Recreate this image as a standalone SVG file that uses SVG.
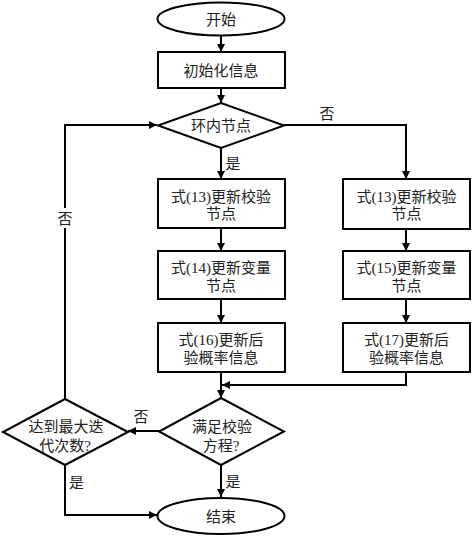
<svg xmlns="http://www.w3.org/2000/svg" width="472" height="536" viewBox="0 0 472 536">
<style>
.s{fill:#fff;stroke:#000;stroke-width:2}
.c{fill:none;stroke:#000;stroke-width:2}
text{font-family:"Liberation Serif","Noto Sans CJK SC",serif;font-size:15px;fill:#222;text-anchor:middle}
</style>
<defs>
<marker id="a" markerUnits="userSpaceOnUse" markerWidth="8" markerHeight="8" refX="8" refY="4" orient="auto">
<path d="M0,0 L8,4 L0,8 z" fill="#000"/>
</marker>
</defs>
<rect width="472" height="536" fill="#fff"/>
<g id="connectors">
<path class="c" d="M221,35 V52" marker-end="url(#a)"/>
<path class="c" d="M221,88 V103" marker-end="url(#a)"/>
<path class="c" d="M221,148 V179" marker-end="url(#a)"/>
<path class="c" d="M284,125 H406 V179" marker-end="url(#a)"/>
<path class="c" d="M221,228 V251" marker-end="url(#a)"/>
<path class="c" d="M221,299 V323" marker-end="url(#a)"/>
<path class="c" d="M406,229 V251" marker-end="url(#a)"/>
<path class="c" d="M406,299 V323" marker-end="url(#a)"/>
<path class="c" d="M221,372 V398" marker-end="url(#a)"/>
<path class="c" d="M406,372 V385 H222" marker-end="url(#a)"/>
<path class="c" d="M159,431 H128" marker-end="url(#a)"/>
<path class="c" d="M221,465 V497" marker-end="url(#a)"/>
<path class="c" d="M65,399 V125 H157" marker-end="url(#a)"/>
<path class="c" d="M65,465 V515 H157" marker-end="url(#a)"/>
<rect x="57" y="208" width="16" height="20" fill="#fff"/>
<text x="65" y="223.5">否</text>
<text x="327" y="119">否</text>
<text x="233" y="169">是</text>
<text x="141" y="421.5">否</text>
<text x="233" y="487">是</text>
<text x="76.5" y="487.5">是</text>
</g>
<g id="start">
<ellipse class="s" cx="221" cy="19" rx="63.5" ry="16.5"/>
<text x="221" y="24.5">开始</text>
</g>
<g id="init">
<rect class="s" x="158" y="52" width="127" height="36"/>
<text x="221" y="75.5">初始化信息</text>
</g>
<g id="inloop">
<polygon class="s" points="221,103 284,125.5 221,148 158,125.5"/>
<text x="221" y="131">环内节点</text>
</g>
<g id="l1">
<rect class="s" x="158" y="179" width="127" height="49"/>
<text x="221" y="201.5">式(13)更新校验</text>
<text x="221" y="219">节点</text>
</g>
<g id="l2">
<rect class="s" x="158" y="251" width="127" height="48"/>
<text x="221" y="273">式(14)更新变量</text>
<text x="221" y="290.5">节点</text>
</g>
<g id="l3">
<rect class="s" x="158" y="323" width="127" height="49"/>
<text x="221" y="345">式(16)更新后</text>
<text x="221" y="362.5">验概率信息</text>
</g>
<g id="r1">
<rect class="s" x="343" y="179" width="127" height="50"/>
<text x="406.5" y="201.5">式(13)更新校验</text>
<text x="406.5" y="219">节点</text>
</g>
<g id="r2">
<rect class="s" x="343" y="251" width="127" height="48"/>
<text x="406.5" y="273">式(15)更新变量</text>
<text x="406.5" y="290.5">节点</text>
</g>
<g id="r3">
<rect class="s" x="343" y="323" width="127" height="49"/>
<text x="406.5" y="345">式(17)更新后</text>
<text x="406.5" y="362.5">验概率信息</text>
</g>
<g id="check">
<polygon class="s" points="221,398 284,431.5 221,465 159,431.5"/>
<text x="222" y="432">满足校验</text>
<text x="221" y="450.5">方程?</text>
</g>
<g id="maxiter">
<polygon class="s" points="65,399 128,432 65,465 3,432"/>
<text x="66" y="432">达到最大迭</text>
<text x="65" y="450.5">代次数?</text>
</g>
<g id="end">
<ellipse class="s" cx="221" cy="516" rx="63.5" ry="18"/>
<text x="221" y="521.5">结束</text>
</g>
</svg>
